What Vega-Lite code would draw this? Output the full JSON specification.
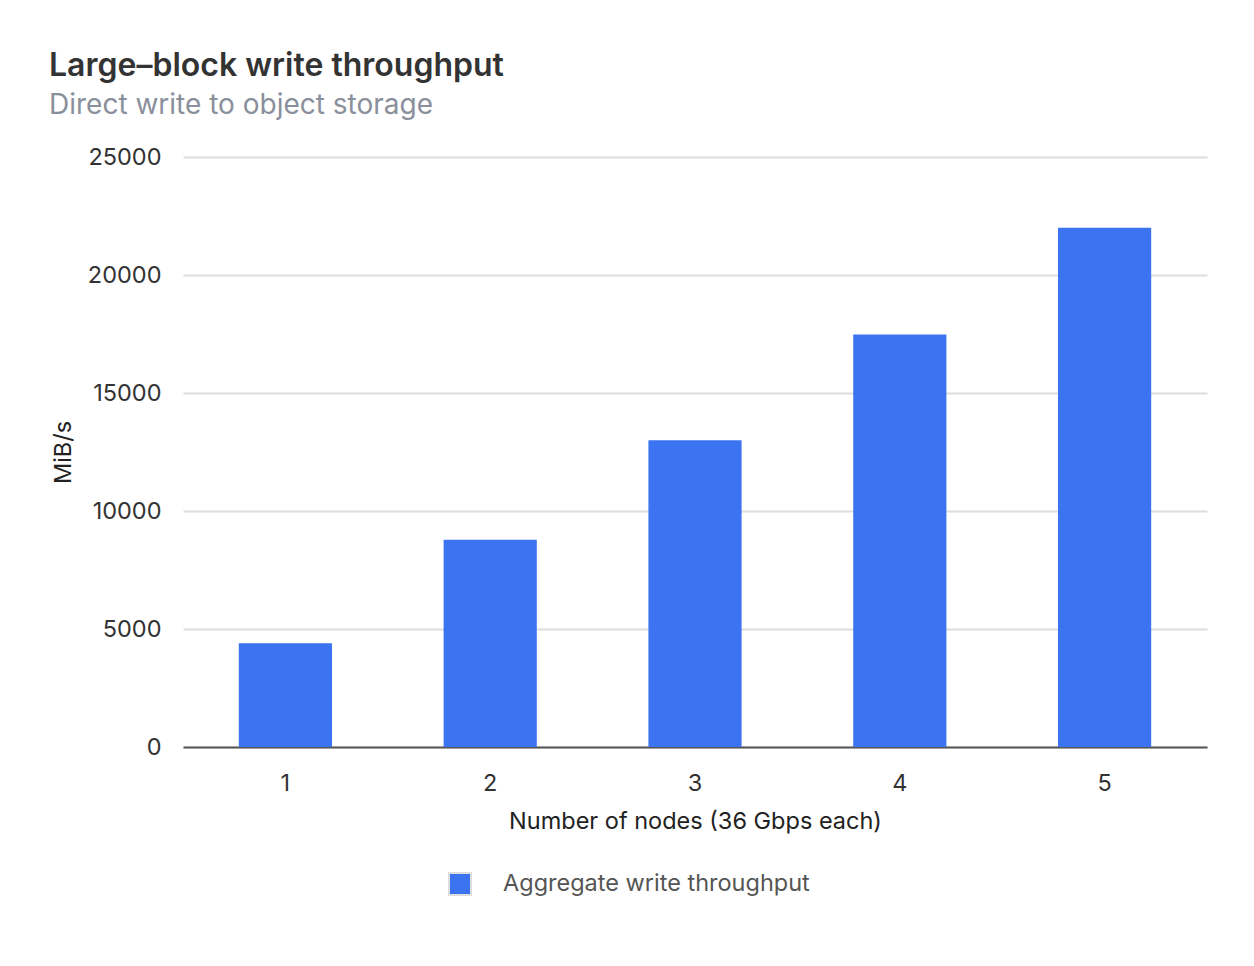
{
  "$schema": "https://vega.github.io/schema/vega-lite/v6.json",
  "autosize": {"type": "none"},
  "width": 1024,
  "height": 590,
  "padding": {"left": 183, "top": 157, "right": 47, "bottom": 219},
  "background": "white",
  "title": {
    "text": "Large–block write throughput",
    "subtitle": "Direct write to object storage",
    "anchor": "start",
    "frame": "group",
    "dx": -134,
    "offset": 24,
    "font": "Inter",
    "fontSize": 32,
    "fontWeight": 600,
    "color": "#333333",
    "subtitleFont": "Inter",
    "subtitleFontSize": 28,
    "subtitleColor": "#8a8f9c",
    "subtitlePadding": 9
  },
  "data": {
    "values": [
      {"nodes": "1", "throughput": 4400},
      {"nodes": "2", "throughput": 8780},
      {"nodes": "3", "throughput": 13000},
      {"nodes": "4", "throughput": 17480},
      {"nodes": "5", "throughput": 22000}
    ]
  },
  "mark": {"type": "bar", "color": "#3b73f0"},
  "encoding": {
    "x": {
      "field": "nodes",
      "type": "nominal",
      "title": "Number of nodes (36 Gbps each)",
      "scale": {"paddingInner": 0.545, "paddingOuter": 0.2725},
      "axis": {
        "labelAngle": 0,
        "labelPadding": 24,
        "titlePadding": 15,
        "domainColor": "#555555",
        "domainWidth": 2,
        "ticks": false
      }
    },
    "y": {
      "field": "throughput",
      "type": "quantitative",
      "title": "MiB/s",
      "scale": {"domain": [0, 25000]},
      "axis": {
        "values": [0, 5000, 10000, 15000, 20000, 25000],
        "format": "d",
        "domain": false,
        "ticks": false,
        "labelPadding": 22,
        "titlePadding": 12,
        "gridColor": "#dddddd",
        "gridWidth": 2
      }
    },
    "color": {
      "datum": "Aggregate write throughput",
      "scale": {"range": ["#3b73f0"]},
      "legend": {
        "title": null,
        "orient": "none",
        "legendX": 265,
        "legendY": 715,
        "symbolType": "square",
        "symbolSize": 484,
        "symbolStrokeColor": "#dddddd",
        "symbolStrokeWidth": 2,
        "labelFont": "Inter",
        "labelFontSize": 23.5,
        "labelColor": "#555555",
        "labelOffset": 31,
        "labelLimit": 0
      }
    }
  },
  "config": {
    "view": {"stroke": null},
    "axis": {
      "labelFont": "Inter",
      "labelFontSize": 23.5,
      "labelColor": "#333333",
      "titleFont": "Inter",
      "titleFontSize": 23.5,
      "titleFontWeight": "normal",
      "titleColor": "#222222"
    },
    "axisX": {"grid": false}
  }
}
